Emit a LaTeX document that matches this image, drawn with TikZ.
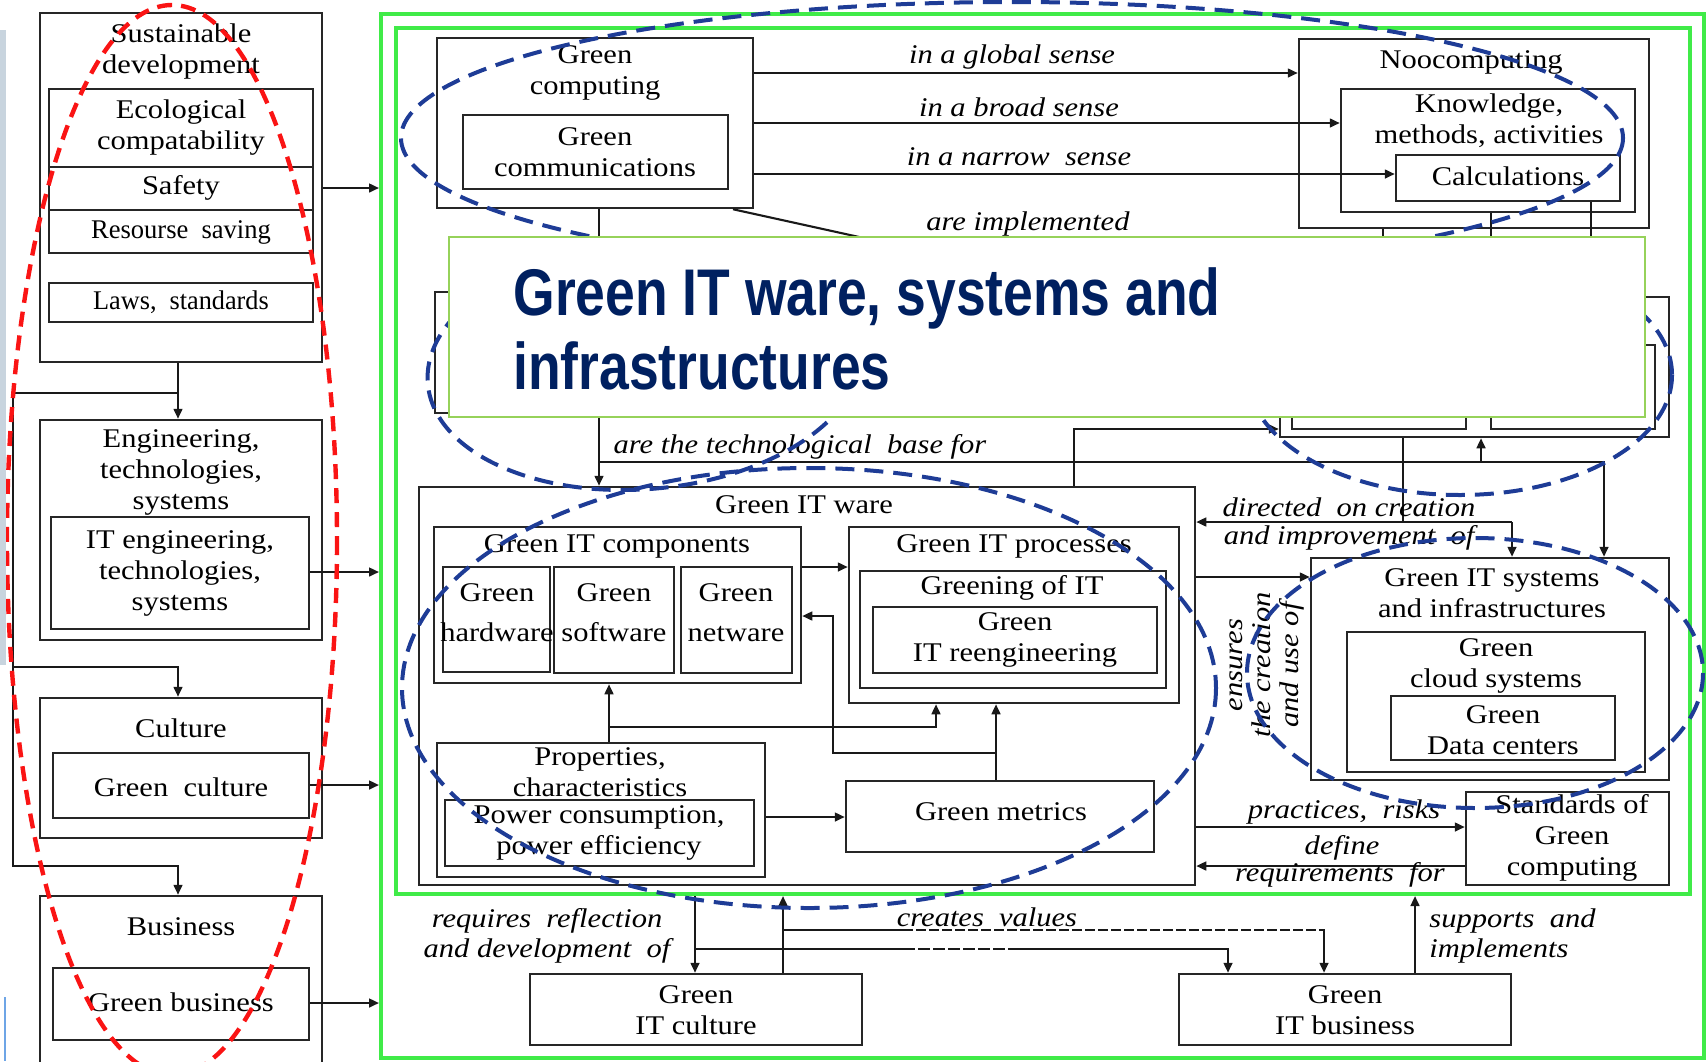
\documentclass[tikz,border=0pt]{standalone}
\usepackage{fontspec}
\usepackage{graphicx}
\setmainfont{Liberation Serif}[FakeStretch=1.13]
\newfontfamily\titlefont{Liberation Sans}[FakeStretch=0.81]
\usetikzlibrary{arrows.meta,fit}
\definecolor{frameGreen}{RGB}{64,235,72}
\definecolor{popGreen}{RGB}{150,210,90}
\definecolor{ovalBlue}{RGB}{30,60,150}
\definecolor{ovalRed}{RGB}{250,20,20}
\definecolor{titleNavy}{RGB}{0,32,96}
\definecolor{stripGray}{RGB}{200,212,222}
\definecolor{stripBlue}{RGB}{110,165,230}

\begin{document}
\begin{tikzpicture}[x=0.5pt,y=-0.5pt,
  every node/.style={font=\fontsize{13.5}{15.5}\selectfont, inner sep=0pt},
  box/.style={draw=black!85, line width=1.25pt, inner sep=0pt},
  txt/.style={align=center},
  lbl/.style={font=\fontsize{13.5}{15}\selectfont\itshape, align=center},
  arr/.style={line width=1.05pt, black!90, -{Triangle[length=5pt,width=4.4pt]}},
  ln/.style={line width=1.05pt, black!90},
  frame/.style={draw=frameGreen, line width=2pt, inner sep=0pt},
  blueoval/.style={draw=ovalBlue, line width=2pt, dash pattern=on 9.5pt off 5pt},
  redoval/.style={draw=ovalRed, line width=2.2pt, dash pattern=on 7.5pt off 4.5pt},
]
\useasboundingbox (0,0) rectangle (1706,1061);

% ---------- left column ----------
\node[box, fit={(40,13)(322,362)}] (sd) {};
\node[txt] (sdT) at (181,52) {Sustainable\\development};
\node[box, fit={(49,89)(313,167)}] (eco) {};
\node[txt] (ecoT) at (181,128) {Ecological\\compatability};
\node[box, fit={(49,167)(313,210)}] (safe) {};
\node (safeT) at (181,188) {Safety};
\node[box, fit={(49,210)(313,253)}] (res) {};
\node (resT) at (181,232) {\scalebox{0.87}[1]{Resourse\ \ saving}};
\node[box, fit={(49,283)(313,322)}] (laws) {};
\node (lawsT) at (181,302) {\scalebox{0.86}[1]{Laws,\ \ standards}};

\node[box, fit={(40,420)(322,640)}] (eng) {};
\node[txt] (engT) at (181,472) {Engineering,\\technologies,\\systems};
\node[box, fit={(51,517)(309,629)}] (iteng) {};
\node[txt] (itengT) at (180,573) {IT engineering,\\technologies,\\systems};

\node[box, fit={(40,698)(322,838)}] (cult) {};
\node (cultT) at (181,728) {Culture};
\node[box, fit={(53,753)(309,818)}] (gcult) {};
\node (gcultT) at (181,787) {Green\ \ culture};

\node[box, fit={(40,896)(322,1064)}] (bus) {};
\node (busT) at (181,927) {Business};
\node[box, fit={(53,968)(309,1040)}] (gbus) {};
\node (gbusT) at (181,1002) {Green business};

\coordinate (jl) at (178,393);
\coordinate (jc) at (13,667);
\draw[arr] (sd.south -| 178,0) -- (eng.north -| 178,0);
\draw[arr] (jl) -| (13,866) -| (bus.north -| 178,0);
\draw[arr] (jc) -| (cult.north -| 178,0);

% ---------- green frames ----------
\node[frame, fit={(381,14)(1704,1058)}] (gout) {};
\node[frame, fit={(396,28)(1690,894)}] (gin) {};

\draw[arr] (sd.east |- 0,188) -- (gout.west |- 0,188);
\draw[arr] (iteng.east |- 0,572) -- (gout.west |- 0,572);
\draw[arr] (gcult.east |- 0,785) -- (gout.west |- 0,785);
\draw[arr] (gbus.east |- 0,1003) -- (gout.west |- 0,1003);

% ---------- top row ----------
\node[box, fit={(437,38)(753,208)}] (gc) {};
\node[txt] (gcT) at (595,73) {Green\\computing};
\node[box, fit={(463,115)(728,189)}] (gcom) {};
\node[txt] (gcomT) at (595,152) {Green\\communications};

\node[box, fit={(1299,39)(1649,228)}] (noo) {};
\node (nooT) at (1471,62) {Noocomputing};
\node[box, fit={(1341,89)(1635,212)}] (know) {};
\node[txt] (knowT) at (1489,121) {Knowledge,\\methods,\ activities};
\node[box, fit={(1396,155)(1620,201)}] (calc) {};
\node (calcT) at (1508,176) {Calculations};

\draw[arr] (gc.east |- 0,73) -- (noo.west |- 0,73);
\draw[arr] (gc.east |- 0,123) -- (know.west |- 0,123);
\draw[arr] (gc.east |- 0,174) -- (calc.west |- 0,174);
\node[lbl] (lg) at (1012,57) {in a global sense};
\node[lbl] (lb) at (1019,107) {in a broad sense};
\node[lbl] (ln) at (1019,157) {in a narrow\ \ sense};
\node[lbl] (li) at (1028,224) {are implemented};

% ---------- middle row (mostly under the pop-up) ----------
\node[box, fit={(435,292)(900,413)}] (hl) {};
\node[box, fit={(1280,297)(1669,437)}] (hr) {};
\node[box, fit={(1292,330)(1466,429)}] (hr1) {};
\node[box, fit={(1491,345)(1655,429)}] (hr2) {};

\coordinate (impl) at (1000,268);
\draw[ln] (gc.south -| 733,0) -- (impl);
\draw[ln] (noo.south -| 1383,0) -- (hr.north -| 1383,0);
\draw[ln] (know.south -| 1491,0) -- (hr.north -| 1491,0);
\draw[ln] (calc.south -| 1591,0) -- (hr.north -| 1591,0);

% ---------- Green IT ware ----------
\node[box, fit={(419,487)(1195,885)}] (gw) {};
\node (gwT) at (804,505) {Green IT ware};
\node[box, fit={(434,527)(801,683)}] (comp) {};
\node (compT) at (617,546) {Green IT components};
\node[box, fit={(443,567)(550,672)}] (hw) {};
\node[txt, font=\fontsize{13.5}{20}\selectfont] (hwT) at (497,613) {Green\\hardware};
\node[box, fit={(554,567)(674,673)}] (sw) {};
\node[txt, font=\fontsize{13.5}{20}\selectfont] (swT) at (614,613) {Green\\software};
\node[box, fit={(681,567)(792,673)}] (nw) {};
\node[txt, font=\fontsize{13.5}{20}\selectfont] (nwT) at (736,613) {Green\\netware};

\node[box, fit={(849,527)(1179,703)}] (proc) {};
\node (procT) at (1014,546) {Green IT processes};
\node[box, fit={(860,571)(1166,688)}] (grn) {};
\node (grnT) at (1012,588) {Greening of IT};
\node[box, fit={(873,607)(1157,673)}] (reng) {};
\node[txt] (rengT) at (1015,640) {Green\\IT reengineering};

\node[box, fit={(437,743)(765,877)}] (prop) {};
\node[txt] (propT) at (600,772) {Properties,\\characteristics};
\node[box, fit={(445,800)(754,866)}] (pow) {};
\node[txt] (powT) at (599,833) {Power consumption,\\power efficiency};
\node[box, fit={(846,781)(1154,852)}] (met) {};
\node (metT) at (1001,812) {Green metrics};

\draw[arr] (comp.east |- 0,567) -- (proc.west |- 0,567);
\draw[arr] (prop.north -| 609,0) -- (comp.south -| 609,0);
\draw[arr] (609,727) -| (proc.south -| 936,0);
\draw[arr] (met.north -| 996,0) -- (proc.south -| 996,0);
\draw[arr] (996,753) -| (833,616) -- (comp.east |- 0,616);
\draw[arr] (prop.east |- 0,817) -- (met.west |- 0,817);

% ---------- systems and standards ----------
\node[box, fit={(1311,558)(1669,780)}] (gis) {};
\node[txt] (gisT) at (1492,593) {Green IT systems\\and infrastructures};
\node[box, fit={(1347,632)(1645,772)}] (cloud) {};
\node[txt] (cloudT) at (1496,666) {Green\\cloud systems};
\node[box, fit={(1391,696)(1615,760)}] (dc) {};
\node[txt] (dcT) at (1503,730) {Green\\Data centers};
\node[box, fit={(1466,792)(1669,885)}] (std) {};
\node[txt] (stdT) at (1572,838) {Standards of\\Green\\computing};

\coordinate (tb) at (599,462);
\coordinate (up) at (1481,462);
\coordinate (dj) at (1403,522);
\coordinate (dk) at (1512,522);
\draw[arr] (gc.south -| 599,0) -- (gw.north -| 599,0);
\draw[arr] (tb) -| (gis.north -| 1604,0);
\draw[arr] (up) -- (hr.south -| up);
\draw[arr] (gw.north -| 1074,0) |- (hr.west |- 0,429);
\draw[ln] (hr.south -| dj) -- (dj);
\draw[arr] (dk) -- (gw.east |- dk);
\draw[arr] (dk) -- (gis.north -| dk);
\draw[arr] (gw.east |- 0,577) -- (gis.west |- 0,577);
\draw[arr] (gw.east |- 0,827) -- (std.west |- 0,827);
\draw[arr] (std.west |- 0,866) -- (gw.east |- 0,866);

\node[lbl] (ltb) at (800,447) {are the technological\ \ base for};
\node[lbl] (ld1) at (1349,507) {directed\ \ on creation};
\node[lbl] (ld2) at (1349,538) {and improvement\ \ of};
\node[align=center, rotate=90, font=\fontsize{13.5}{14}\selectfont\itshape] (lens) at (1267,665) {ensures\\the creation\\and use of};
\node[lbl] (lpr) at (1344,812) {practices,\ \ risks};
\node[lbl] (ldf) at (1342,848) {define};
\node[lbl] (lrq) at (1340,875) {requirements\ \ for};

% ---------- bottom row ----------
\node[box, fit={(530,974)(862,1045)}] (gitc) {};
\node[txt] (gitcT) at (696,1010) {Green\\IT culture};
\node[box, fit={(1179,974)(1511,1045)}] (gitb) {};
\node[txt] (gitbT) at (1345,1010) {Green\\IT business};

\coordinate (rq) at (695,949);
\coordinate (cv) at (783,930);
\draw[arr] (gin.south -| rq) -- (gitc.north -| rq);
\draw[arr] (rq) -| (gitb.north -| 1228,0);
\draw[arr] (gitc.north -| cv) -- (gin.south -| cv);
\draw[arr] (cv) -| (gitb.north -| 1324,0);
\draw[arr] (gitb.north -| 1415,0) -- (gin.south -| 1415,0);
% broken stretches where faint lettering crosses the lines
\draw[white, line width=1.6pt, dash pattern=on 1.5pt off 5pt] (913,930) -- (1322,930);
\draw[white, line width=1.6pt, dash pattern=on 1.5pt off 6pt] (915,949) -- (1020,949);

\node[lbl] (lrr) at (547,936) {requires\ \ reflection\\and development\ \ of};
\node[lbl] (lcv) at (987,917) {creates\ \ values};
\node[lbl, align=left, anchor=west] (lsi) at (1429,936) {supports\ \ and\\implements};

% ---------- dashed ovals ----------
\draw[blueoval] (1012,138) ellipse [x radius=611, y radius=136];
\draw[blueoval, rotate around={5:(645,365)}] (645,365) ellipse [x radius=218, y radius=124];
\draw[blueoval] (1460,375) ellipse [x radius=212, y radius=120];
\draw[blueoval] (809,688) ellipse [x radius=407, y radius=220];
\draw[blueoval] (1475,673) ellipse [x radius=228, y radius=135];
\draw[redoval] (172,540) ellipse [x radius=165, y radius=535];

% ---------- pop-up title ----------
\node[fit={(449,237)(1645,417)}, inner sep=0pt, draw=popGreen, fill=white, line width=1pt] (pop) {};
\node[anchor=base west, text=titleNavy, font=\titlefont\bfseries\fontsize{33}{36}\selectfont] (t1) at (513,315) {Green IT ware, systems and};
\node[anchor=base west, text=titleNavy, font=\titlefont\bfseries\fontsize{33}{36}\selectfont] (t2) at (513,389) {infrastructures};

% ---------- window edge ----------
\fill[stripGray] (0,30) rectangle (6,665);
\draw[stripBlue, line width=0.6pt] (5,997) -- (5,1061);
\end{tikzpicture}
\end{document}
